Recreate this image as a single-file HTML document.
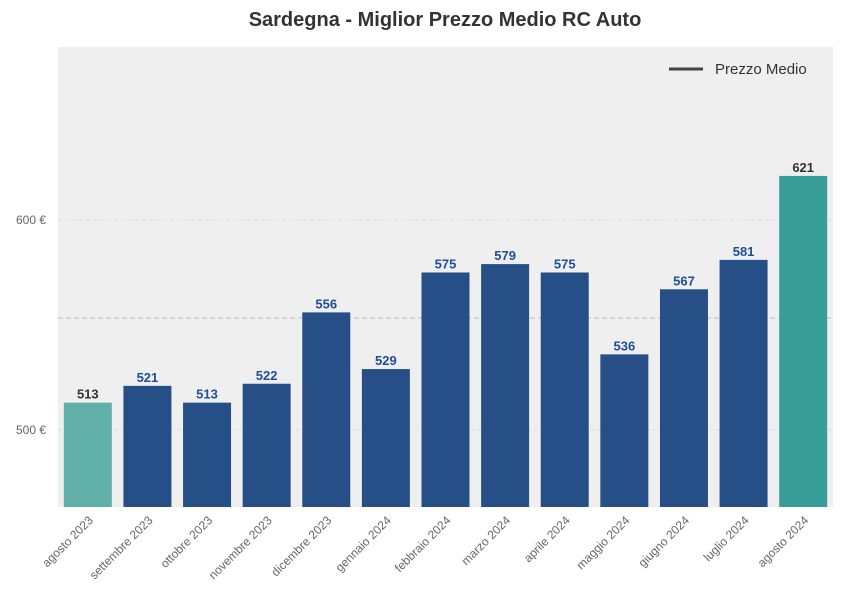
<!DOCTYPE html>
<html><head><meta charset="utf-8">
<style>
body{margin:0;background:#fff;font-family:"Liberation Sans",Arial,sans-serif;}
svg text{font-family:"Liberation Sans",Arial,sans-serif;}
</style></head>
<body>
<svg id="chart" width="845" height="610" xmlns="http://www.w3.org/2000/svg">
<rect width="845" height="610" fill="#fff"/>
<text x="445" y="26" text-anchor="middle" font-size="20" font-weight="bold" fill="#333">Sardegna - Miglior Prezzo Medio RC Auto</text>
<rect x="58" y="47" width="775" height="460" fill="#efefef"/>
<g id="grid"></g>
<g id="bars"></g>
<g id="labels"></g>
<g id="xlabels"></g>
<g>
<line x1="669" y1="69" x2="703" y2="69" stroke="#444" stroke-width="3"/>
<text x="715" y="74" font-size="15" fill="#333">Prezzo Medio</text>
</g>
</svg>
<script>
const categories=["agosto 2023","settembre 2023","ottobre 2023","novembre 2023","dicembre 2023","gennaio 2024","febbraio 2024","marzo 2024","aprile 2024","maggio 2024","giugno 2024","luglio 2024","agosto 2024"];
const prices=[513,521,513,522,556,529,575,579,575,536,567,581,621];
const meanPrice=553.3;
const yTicks=[500,600];
const yTickLabels=["500 €","600 €"];
const NS="http://www.w3.org/2000/svg";
const plotL=58,plotR=833,plotT=47,plotB=507,yMin=463.3,yMax=682.4;
const y=v=>plotB-(v-yMin)/(yMax-yMin)*(plotB-plotT);
const step=(plotR-plotL)/categories.length;
const x=i=>plotL+step*(i+0.5);
const bw=48;
function mk(tag,attrs,parent){const e=document.createElementNS(NS,tag);for(const k in attrs)e.setAttribute(k,attrs[k]);parent.appendChild(e);return e;}
const grid=document.getElementById('grid');
yTicks.forEach((t,i)=>{
 const l=mk('line',{x1:plotL,x2:plotR,y1:y(t),y2:y(t),stroke:'#dcdcdc','stroke-dasharray':'4,3'},grid);
 
 
 const tx=mk('text',{x:plotL-12,y:y(t)+4,'text-anchor':'end','font-size':12,fill:'#666'},grid);
 tx.textContent=yTickLabels[i];
 
 
});
const bars=document.getElementById('bars'),labels=document.getElementById('labels'),xl=document.getElementById('xlabels');
prices.forEach((p,i)=>{
 const last=i===prices.length-1,first=i===0;
 const col=first?'#62b0aa':last?'#3a9e98':'#264f88';
 const r=mk('rect',{x:x(i)-bw/2,y:y(p),width:bw,height:plotB-y(p),fill:col},bars);
 
 
 const t=mk('text',{x:x(i),y:y(p)-4,'text-anchor':'middle','font-size':13,'font-weight':'bold',fill:(first||last)?'#333':'#1f4e99'},labels);
 t.textContent=p;
 
 
 const c=mk('text',{x:x(i)+6,y:plotB+14,'text-anchor':'end','font-size':12,fill:'#666',transform:`rotate(-45 ${x(i)+6} ${plotB+14})`},xl);
 c.textContent=categories[i];
 
 
});
const m=mk('line',{x1:plotL,x2:plotR,y1:y(meanPrice),y2:y(meanPrice),stroke:'#bbb','stroke-dasharray':'5,3'},grid);


</script>
</body></html>
